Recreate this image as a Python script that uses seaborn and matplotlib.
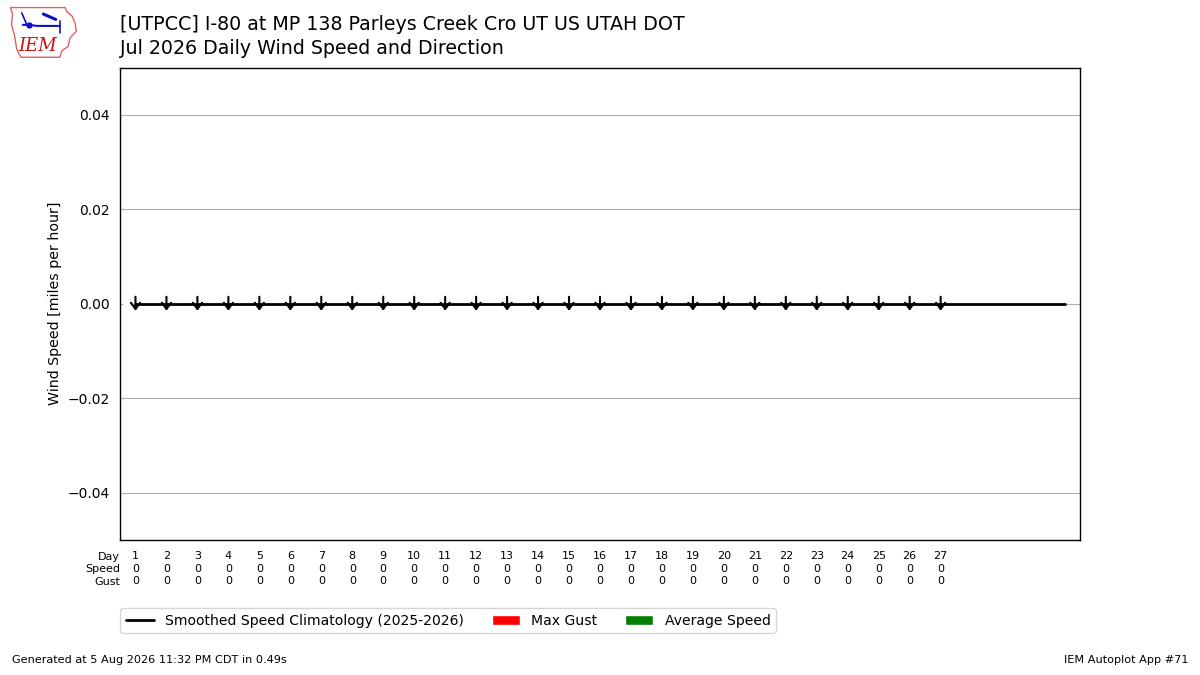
import matplotlib
matplotlib.use("Agg")
import matplotlib.pyplot as plt
import matplotlib.transforms as mtransforms
import seaborn as sns
import numpy as np
import pandas as pd
from matplotlib.patches import Polygon

# ---- data ----
obs_days = list(range(1, 28))
avg_speed = [0] * 27
max_gust = [0] * 27
wind_dir = [0] * 27  # direction (deg) -> arrows point down
clim_days = list(range(1, 32))
clim_speed = [0.0] * 31

title_line1 = "[UTPCC] I-80 at MP 138 Parleys Creek Cro UT US UTAH DOT"
title_line2 = "Jul 2026 Daily Wind Speed and Direction"

sns.set_style("white")
plt.rcParams['font.family'] = ['DejaVu Sans']
for k in ['text.color', 'axes.labelcolor', 'xtick.color', 'ytick.color']:
    plt.rcParams[k] = 'black'

fig = plt.figure(figsize=(12, 6.75), dpi=100)
ax = fig.add_axes([0.1, 0.2, 0.8, 0.7])

# bars (zero height)
ax.bar(obs_days, max_gust, width=0.8, color='red', label='Max Gust')
ax.bar(obs_days, avg_speed, width=0.5, color='green', label='Average Speed')

clim = pd.DataFrame({"day": clim_days, "speed": clim_speed})
sns.lineplot(data=clim, x="day", y="speed", color='k', lw=2, ax=ax,
             label="Smoothed Speed Climatology (2025-2026)", zorder=3)

# direction arrows (7 px each side of the point)
for d, s, wd in zip(obs_days, avg_speed, wind_dir):
    rad = np.deg2rad(wd)
    ux, uy = -np.sin(rad), -np.cos(rad)
    tip = mtransforms.offset_copy(ax.transData, fig=fig, x=ux * 7, y=uy * 7, units='dots')
    tail = mtransforms.offset_copy(ax.transData, fig=fig, x=-ux * 7, y=-uy * 7, units='dots')
    ax.annotate("", xy=(d, s), xycoords=tip, xytext=(d, s), textcoords=tail,
                arrowprops=dict(arrowstyle='->,head_length=0.45,head_width=0.33',
                                color='k', lw=1.5, shrinkA=0, shrinkB=0,
                                mutation_scale=10),
                zorder=5)

ax.set_xlim(0.5, 31.5)
ax.set_ylim(-0.05, 0.05)
ax.set_yticks([-0.04, -0.02, 0.0, 0.02, 0.04])
ax.grid(axis='y', color='#b0b0b0', lw=0.8)
ax.set_axisbelow(True)
ax.set_xticks(obs_days)
ax.set_xticklabels([f"{d}\n{s:.0f}\n{g:.0f}" for d, s, g in zip(obs_days, avg_speed, max_gust)],
                   fontsize=8, linespacing=1.32)
ax.tick_params(axis='x', length=4, pad=4)
ax.tick_params(axis='y', labelsize=10, length=4)
ax.set_xlabel("")
ax.set_ylabel("Wind Speed [miles per hour]", fontsize=10.2)
for sp in ax.spines.values():
    sp.set_color('k')
    sp.set_linewidth(1)

fig.text(0.1, 0.184 - 1 / 675, "Day\nSpeed\nGust", ha='right', va='top',
         fontsize=8, linespacing=1.32)

handles, labels = ax.get_legend_handles_labels()
order = [labels.index("Smoothed Speed Climatology (2025-2026)"),
         labels.index("Max Gust"), labels.index("Average Speed")]
ax.legend([handles[i] for i in order], [labels[i] for i in order],
          loc='upper left', bbox_to_anchor=(0.0, -0.144), ncol=3,
          fontsize=10.1, frameon=True, borderaxespad=0)

fig.text(0.1, 0.964, title_line1, fontsize=13.65, ha='left', va='center')
fig.text(0.1, 0.928, title_line2, fontsize=13.65, ha='left', va='center')
fig.text(0.01, 0.015, "Generated at 5 Aug 2026 11:32 PM CDT in 0.49s",
         fontsize=8.1, ha='left', va='bottom')
fig.text(0.99, 0.015, "IEM Autoplot App #71", fontsize=8.1, ha='right', va='bottom')

# logo
lax = fig.add_axes([0.007, 0.912, 0.06, 0.08])
lax.set_xlim(0, 70)
lax.set_ylim(0, 50)
lax.axis('off')
iowa = [(2, 48), (55, 48), (57, 44), (62, 40), (65, 33), (66, 26), (60, 20),
        (58, 12), (52, 8), (50, 2), (12, 2), (8, 10), (6, 22), (3, 32), (4, 42)]
lax.add_patch(Polygon(iowa, closed=True, fill=False, ec='#e06060', lw=1))
lax.plot([14, 20, 28, 40, 50], [32, 32, 31, 31, 31], color='#1010c0', lw=1.5)
lax.plot([18, 13], [32, 43], color='#1010c0', lw=1.2)
lax.plot([34, 46], [42, 37], color='#1010c0', lw=2.2)
lax.plot([50, 50], [36, 24], color='#1010c0', lw=1.2)
lax.plot([20], [32], 'o', color='#1010c0', ms=3.5)
lax.text(10, 12, "IEM", color='#cc1010', fontsize=13, family='DejaVu Serif',
         style='italic', ha='left', va='center')

fig.savefig("out.png", dpi=100)
